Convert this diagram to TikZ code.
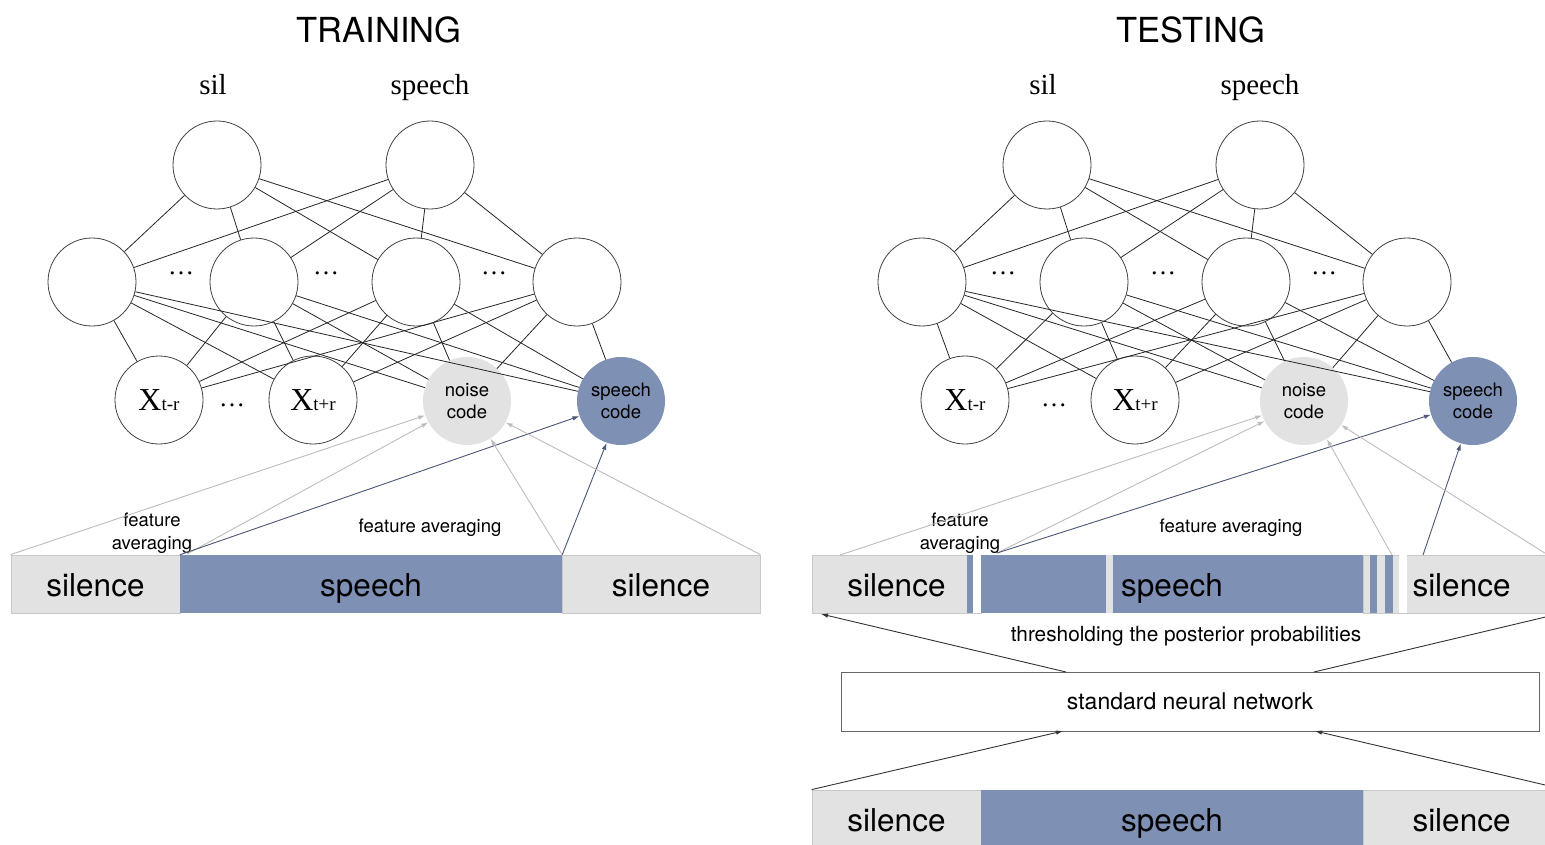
\documentclass[tikz,border=0pt]{standalone}
\usepackage{fontspec}
\setmainfont{Liberation Serif}
\setsansfont{TeX Gyre Heros}
\usetikzlibrary{arrows.meta}
\definecolor{spblue}{HTML}{7E90B4}
\definecolor{silgray}{HTML}{E2E2E2}
\definecolor{bordergray}{HTML}{C8C8C8}
\definecolor{arrgray}{HTML}{BDBDBD}
\definecolor{arrblue}{HTML}{4B5777}
\tikzset{
  neuron/.style={circle, draw=black!75, line width=0.8pt, fill=white, minimum size=88pt, inner sep=0pt},
  noisenode/.style={circle, fill=silgray, minimum size=88pt, inner sep=0pt, align=center, font=\sffamily\fontsize{18.5}{22}\selectfont},
  speechnode/.style={noisenode, fill=spblue},
  conn/.style={line width=0.8pt, draw=black!85},
  grayarrow/.style={draw=arrgray, line width=0.9pt, -{Latex[length=7pt,width=4.5pt]}},
  bluearrow/.style={draw=arrblue, line width=0.9pt, -{Latex[length=7pt,width=4.5pt]}},
  blackarrow/.style={draw=black!80, line width=0.9pt, -{Latex[length=7pt,width=4.5pt]}},
  silbox/.style={rectangle, fill=silgray, draw=bordergray, line width=0.8pt, minimum height=58pt, inner sep=0pt},
  spbox/.style={rectangle, fill=spblue, minimum height=58pt, inner sep=0pt},
  barlbl/.style={anchor=base, font=\sffamily\fontsize{31.5}{36}\selectfont, inner sep=0pt},
  titlelbl/.style={anchor=base, font=\sffamily\fontsize{34.5}{40}\selectfont, inner sep=0pt},
  toplbl/.style={anchor=base, font=\fontsize{29}{32}\selectfont, inner sep=0pt},
  smalllbl/.style={font=\sffamily\fontsize{18.5}{23}\selectfont, align=center, inner sep=0pt},
  dotslbl/.style={anchor=base, font=\fontsize{26}{28}\selectfont, inner sep=0pt},
}
\newcommand{\xin}[1]{{\fontsize{32}{34}\selectfont X}{\fontsize{19}{21}\selectfont #1}}
\begin{document}
\begin{tikzpicture}[x=1pt,y=-1pt]
\clip (0,0) rectangle (1545,845);
\fill[white] (0,0) rectangle (1545,845);

% ---------------- TRAINING ----------------
\node[titlelbl] (ttrain) at (379,43) {TRAINING};
\node[toplbl] (lsil) at (213,95) {sil};
\node[toplbl] (lspeech) at (430,95) {speech};

\node[neuron] (lT1) at (217,165) {};
\node[neuron] (lT2) at (430,165) {};
\node[neuron] (lH1) at (92,282) {};
\node[neuron] (lH2) at (254,282) {};
\node[neuron] (lH3) at (416,282) {};
\node[neuron] (lH4) at (577,282) {};
\node[neuron] (lX1) at (159,400) {\xin{t-r}};
\node[neuron] (lX2) at (313,400) {\xin{t+r}};
\node[noisenode] (lnoise) at (467,401) {noise\\code};
\node[speechnode] (lspc) at (621,401) {speech\\code};

\foreach \a in {lT1,lT2} \foreach \b in {lH1,lH2,lH3,lH4} \draw[conn] (\a) -- (\b);
\foreach \a in {lH1,lH2,lH3,lH4} \foreach \b in {lX1,lX2,lnoise,lspc} \draw[conn] (\a) -- (\b);

\node[dotslbl] (ld1) at (181,274) {…};
\node[dotslbl] (ld2) at (326,274) {…};
\node[dotslbl] (ld3) at (494,274) {…};
\node[dotslbl] (ld4) at (232,406) {…};

\node[silbox, minimum width=169pt] (lbs1) at (95.5,584) {};
\node[spbox, minimum width=382pt] (lbsp) at (371,584) {};
\node[silbox, minimum width=198pt] (lbs2) at (661,584) {};
\node[barlbl] (lt1) at (95.5,596) {silence};
\node[barlbl] (lt2) at (371,596) {speech};
\node[barlbl] (lt3) at (661,596) {silence};

\node[smalllbl] (lfa1) at (152,533) {feature\\averaging};
\node[smalllbl] (lfa2) at (430,528) {feature averaging};

\coordinate (lB) at (187,554);
\draw[grayarrow] (lbs1.north west) -- (lnoise.199);
\draw[grayarrow] (lB) -- (lnoise.209);
\draw[bluearrow] (lbsp.north west) -- (lspc.200);
\draw[grayarrow] (lbsp.north east) -- (lnoise.302);
\draw[bluearrow] (lbsp.north east) -- (lspc.251);
\draw[grayarrow] (lbs2.north east) -- (lnoise.331);

% ---------------- TESTING ----------------
\node[titlelbl] (ttest) at (1191,43) {TESTING};
\node[toplbl] (rsil) at (1043,95) {sil};
\node[toplbl] (rspeech) at (1260,95) {speech};

\node[neuron] (rT1) at (1047,165) {};
\node[neuron] (rT2) at (1260,165) {};
\node[neuron] (rH1) at (922,282) {};
\node[neuron] (rH2) at (1084,282) {};
\node[neuron] (rH3) at (1246,282) {};
\node[neuron] (rH4) at (1407,282) {};
\node[neuron] (rX1) at (965,400) {\xin{t-r}};
\node[neuron] (rX2) at (1135,400) {\xin{t+r}};
\node[noisenode] (rnoise) at (1304,401) {noise\\code};
\node[speechnode] (rspc) at (1473,401) {speech\\code};

\foreach \a in {rT1,rT2} \foreach \b in {rH1,rH2,rH3,rH4} \draw[conn] (\a) -- (\b);
\foreach \a in {rH1,rH2,rH3,rH4} \foreach \b in {rX1,rX2,rnoise,rspc} \draw[conn] (\a) -- (\b);

\node[dotslbl] (rd1) at (1003,274) {…};
\node[dotslbl] (rd2) at (1163,274) {…};
\node[dotslbl] (rd3) at (1324,274) {…};
\node[dotslbl] (rd4) at (1054,406) {…};

% thresholded bar
\node[silbox, minimum width=169pt] (rbs1) at (896.5,584) {};
\node[spbox, minimum width=382pt] (rbsp) at (1172,584) {};
\node[silbox, minimum width=197pt] (rbs2) at (1461.5,584) {};
\fill[spblue] (967,555) rectangle (973,613);
\fill[white] (973,555) rectangle (981,613);
\fill[silgray] (1106,555) rectangle (1113,613);
\fill[spblue] (1370,555) rectangle (1377,613);
\fill[spblue] (1385,555) rectangle (1393,613);
\fill[white] (1399,555) rectangle (1407,613);
\node[barlbl] (rt1) at (896.5,596) {silence};
\node[barlbl] (rt2) at (1172,596) {speech};
\node[barlbl] (rt3) at (1461.5,596) {silence};

\node[smalllbl] (rfa1) at (960,533) {feature\\averaging};
\node[smalllbl] (rfa2) at (1231,528) {feature averaging};

\coordinate (rA) at (840,555);
\coordinate (rB) at (997,553);
\coordinate (rD) at (1392,555);
\coordinate (rE) at (1423,555);
\coordinate (rF) at (1548,555);
\draw[grayarrow] (rA) -- (rnoise.199);
\draw[grayarrow] (rB) -- (rnoise.207);
\draw[bluearrow] (rB) -- (rspc.198);
\draw[grayarrow] (rD) -- (rnoise.301);
\draw[bluearrow] (rE) -- (rspc.254);
\draw[grayarrow] (rF) -- (rnoise.327);

% standard network
\node[smalllbl, font=\sffamily\fontsize{20.8}{24}\selectfont] (thr) at (1186,636) {thresholding the posterior probabilities};
\node[rectangle, draw=black!60, line width=0.8pt, minimum width=698pt, minimum height=59pt, inner sep=0pt,
      font=\sffamily\fontsize{23}{26}\selectfont] (nn) at (1190,701.5) {\raisebox{-1.5pt}{standard neural network}};

% input bar
\node[silbox, minimum width=169pt] (rcs1) at (896.5,819) {};
\node[spbox, minimum width=382pt] (rcsp) at (1172,819) {};
\node[silbox, minimum width=197pt] (rcs2) at (1461.5,819) {};
\node[barlbl] (rc1) at (896.5,831) {silence};
\node[barlbl] (rc2) at (1172,831) {speech};
\node[barlbl] (rc3) at (1461.5,831) {silence};

\coordinate (nnA) at (1066,672);
\coordinate (nnB) at (1314,672);
\coordinate (nnC) at (1063,731);
\coordinate (nnD) at (1315,731);
\coordinate (thrL) at (821,614);
\coordinate (thrR) at (1575,610);
\coordinate (inR) at (1575,792);
\draw[blackarrow] (nnA) -- (thrL);
\draw[blackarrow] (nnB) -- (thrR);
\draw[blackarrow] (rcs1.north west) -- (nnC);
\draw[blackarrow] (inR) -- (nnD);
\end{tikzpicture}
\end{document}
